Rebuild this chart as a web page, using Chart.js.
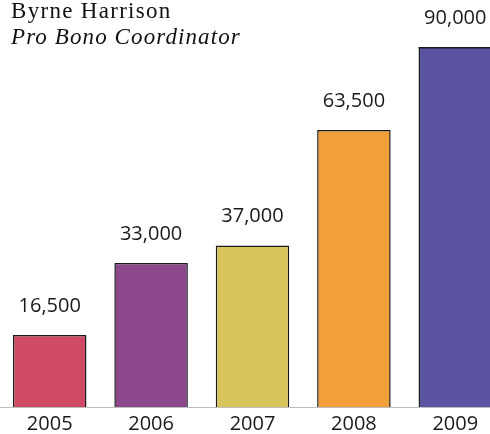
<!DOCTYPE html>
<html><head><meta charset="utf-8">
<script src="https://cdn.jsdelivr.net/npm/chart.js@4.4.1/dist/chart.umd.min.js"></script>
<style>
html,body{margin:0;padding:0;background:#fff;overflow:hidden;width:490px;height:434px;}
#wrap{position:absolute;left:-1px;top:0;width:507px;height:434px;}
.t{position:absolute;left:11px;font-family:"Liberation Serif",serif;font-size:23px;line-height:26px;color:#111;white-space:nowrap;}
</style></head><body>
<div id="wrap"><canvas id="c"></canvas></div>
<div class="t" style="top:-2px;letter-spacing:1.3px">Byrne Harrison</div>
<div class="t" style="top:24px;font-style:italic;letter-spacing:1.1px">Pro Bono Coordinator</div>
<script>
const years = ['2005', '2006', '2007', '2008', '2009'];
const hours = [16500, 33000, 37000, 63500, 90000];
const barColors = ['#CF4A65', '#8C488A', '#D9C45B', '#F29F3A', '#5A53A2'];
const axisMax = 82500;

const valueLabels = {
  id: 'valueLabels',
  afterDatasetsDraw(chart) {
    const { ctx, chartArea } = chart;
    const meta = chart.getDatasetMeta(0);
    ctx.save();
    ctx.font = '20px "Open Sans"';
    ctx.textAlign = 'center';
    ctx.textBaseline = 'middle';
    meta.data.forEach((bar, i) => {
      let top = bar.y;
      if (bar.y < chartArea.top) {
        top = chartArea.top;
        ctx.fillStyle = '#1a1a1a';
        ctx.fillRect(bar.x - bar.width / 2, chartArea.top, bar.width, 1.5);
      }
      ctx.fillStyle = '#1a1a1a';
      ctx.fillText(hours[i].toLocaleString('en-US'), bar.x, top - 29);
    });
    ctx.restore();
  }
};

new Chart(document.getElementById('c'), {
  type: 'bar',
  data: {
    labels: years,
    datasets: [{
      data: hours,
      backgroundColor: barColors,
      borderColor: '#1a1a1a',
      borderWidth: 1.5,
      borderSkipped: 'start',
      barPercentage: 0.725,
      categoryPercentage: 1,
      clip: { left: false, top: 0, right: false, bottom: false }
    }]
  },
  options: {
    responsive: true,
    maintainAspectRatio: false,
    animation: false,
    layout: { padding: { top: 47, bottom: -8, left: 0, right: 0 } },
    plugins: { legend: { display: false }, tooltip: { enabled: false }, title: { display: false } },
    scales: {
      x: {
        grid: { display: false, drawTicks: false, tickLength: 0 },
        border: { display: true, color: '#bdbdbd', width: 1 },
        ticks: { font: { family: 'Open Sans', size: 20, lineHeight: 1.15 }, color: '#1a1a1a', padding: 6 }
      },
      y: { display: false, min: 0, max: axisMax }
    }
  },
  plugins: [valueLabels]
});
</script>
</body></html>
